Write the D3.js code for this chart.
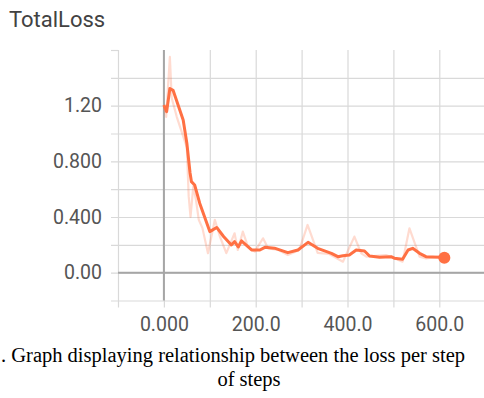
<!DOCTYPE html>
<html>
<head>
<meta charset="utf-8">
<script src="https://cdn.jsdelivr.net/npm/d3@7"></script>
<style>
	html, body { margin: 0; padding: 0; background: #fff; }
	svg { display: block; }
</style>
</head>
<body>
<script>
// smoothed series (orange line)
var smoothSteps = [0, 6, 13, 20, 42, 50, 57, 60, 67, 78, 100, 115, 130, 147, 154, 162, 169, 191, 209, 220, 241, 270, 292, 314, 335, 365, 379, 390, 404, 419, 437, 448, 470, 495, 502, 520, 532, 542, 557, 571, 600, 611];
var smoothLoss = [1.205, 1.157, 1.323, 1.31, 1.097, 0.93, 0.716, 0.654, 0.63, 0.499, 0.295, 0.325, 0.26, 0.199, 0.223, 0.185, 0.228, 0.163, 0.163, 0.182, 0.176, 0.144, 0.163, 0.218, 0.175, 0.139, 0.115, 0.122, 0.127, 0.163, 0.156, 0.12, 0.11, 0.115, 0.104, 0.096, 0.163, 0.175, 0.139, 0.115, 0.11, 0.108];

// raw series (faint line)
var rawSteps = [0, 5, 13, 17, 28, 50, 54, 58, 64, 70, 76, 84, 96, 111, 122, 136, 154, 161, 172, 183, 198, 216, 227, 250, 270, 295, 313, 335, 360, 390, 415, 430, 441, 484, 520, 535, 557, 571, 600, 611];
var rawLoss = [1.2, 1.12, 1.55, 1.255, 1.12, 0.9, 0.55, 0.4, 0.62, 0.52, 0.38, 0.32, 0.14, 0.38, 0.26, 0.14, 0.283, 0.163, 0.295, 0.187, 0.151, 0.247, 0.175, 0.163, 0.127, 0.163, 0.343, 0.142, 0.134, 0.079, 0.259, 0.139, 0.115, 0.127, 0.079, 0.319, 0.115, 0.103, 0.115, 0.108];

// tick values
var xGridTicks = [-100, 0, 100, 200, 300, 400, 500, 600, 700];
var xLabelTicks = [0, 200, 400, 600];
var yGridTicks = [-0.2, 0, 0.2, 0.4, 0.6, 0.8, 1.0, 1.2, 1.4, 1.6];
var yLabelTicks = [0, 0.4, 0.8, 1.2];

var title = "TotalLoss";
var captionLines = [". Graph displaying relationship between the loss per step", "of steps"];

var W = 484, H = 398;
var color = "#ff7043";

var svg = d3.select("body").append("svg")
	.attr("width", W)
	.attr("height", H);

// scales
var x = d3.scaleLinear().domain([-100, 700]).range([118, 485.2]);
var y = d3.scaleLinear().domain([-0.2, 1.6]).range([300.5, 50]);

// title
svg.append("text")
	.attr("x", 9)
	.attr("y", 27)
	.attr("font-family", "Roboto, sans-serif")
	.attr("font-size", 22)
	.attr("fill", "#424242")
	.text(title);

// vertical grid + bottom ticks + x labels
var xAxis = svg.append("g")
	.attr("transform", "translate(0,307.5)")
	.call(d3.axisBottom(x)
		.tickValues(xGridTicks)
		.tickSize(-(307.5 - 50))
		.tickPadding(10)
		.tickFormat(d => xLabelTicks.indexOf(d) >= 0 ? (d === 0 ? "0.000" : d3.format(".1f")(d)) : ""));
xAxis.select(".domain").remove();
xAxis.selectAll(".tick line").attr("stroke", "#d9d9d9").attr("stroke-width", 1.2);
xAxis.selectAll(".tick text")
	.attr("font-family", "Roboto, sans-serif")
	.attr("font-size", 19.5)
	.attr("fill", "#555");

// horizontal grid + left ticks + y labels
var yAxis = svg.append("g")
	.attr("transform", "translate(111,0)")
	.call(d3.axisLeft(y)
		.tickValues(yGridTicks)
		.tickSize(-(W - 111))
		.tickPadding(9)
		.tickFormat(d => {
			if (yLabelTicks.indexOf(d) < 0) return "";
			return d === 0 ? "0.00" : (d >= 1 ? d3.format(".2f")(d) : d3.format(".3f")(d));
		}));
yAxis.select(".domain").remove();
yAxis.selectAll(".tick line")
	.attr("stroke", "#d9d9d9")
	.attr("stroke-width", 1.2)
	.attr("x2", d => d >= 1.6 ? 7 : W - 111);
yAxis.selectAll(".tick text")
	.attr("font-family", "Roboto, sans-serif")
	.attr("font-size", 19.5)
	.attr("fill", "#555");

// zero lines
svg.append("line")
	.attr("x1", x(0)).attr("x2", x(0))
	.attr("y1", y(1.6)).attr("y2", y(-0.2))
	.attr("stroke", "#a6a6a6").attr("stroke-width", 2);
svg.append("line")
	.attr("x1", x(-100)).attr("x2", W)
	.attr("y1", y(0)).attr("y2", y(0))
	.attr("stroke", "#a6a6a6").attr("stroke-width", 2);

var line = d3.line()
	.x(d => x(d[0]))
	.y(d => y(d[1]));

var rawData = rawSteps.map((s, i) => [s, rawLoss[i]]);
var smoothData = smoothSteps.map((s, i) => [s, smoothLoss[i]]);

// raw series, faint
svg.append("path")
	.datum(rawData)
	.attr("d", line)
	.attr("fill", "none")
	.attr("stroke", color)
	.attr("stroke-opacity", 0.25)
	.attr("stroke-width", 2.2)
	.attr("stroke-linejoin", "round");

// smoothed series
svg.append("path")
	.datum(smoothData)
	.attr("d", line)
	.attr("fill", "none")
	.attr("stroke", color)
	.attr("stroke-width", 3)
	.attr("stroke-linejoin", "round");

// last point marker
var last = smoothData[smoothData.length - 1];
svg.append("circle")
	.attr("cx", x(last[0]))
	.attr("cy", y(last[1]))
	.attr("r", 6)
	.attr("fill", color);

// caption below the chart
svg.append("text")
	.attr("x", 1)
	.attr("y", 362)
	.attr("font-family", "'Liberation Serif', 'Times New Roman', serif")
	.attr("font-size", 20.5)
	.attr("fill", "#000")
	.text(captionLines[0]);
svg.append("text")
	.attr("x", 249)
	.attr("y", 386)
	.attr("text-anchor", "middle")
	.attr("font-family", "'Liberation Serif', 'Times New Roman', serif")
	.attr("font-size", 20.5)
	.attr("fill", "#000")
	.text(captionLines[1]);
</script>
</body>
</html>
